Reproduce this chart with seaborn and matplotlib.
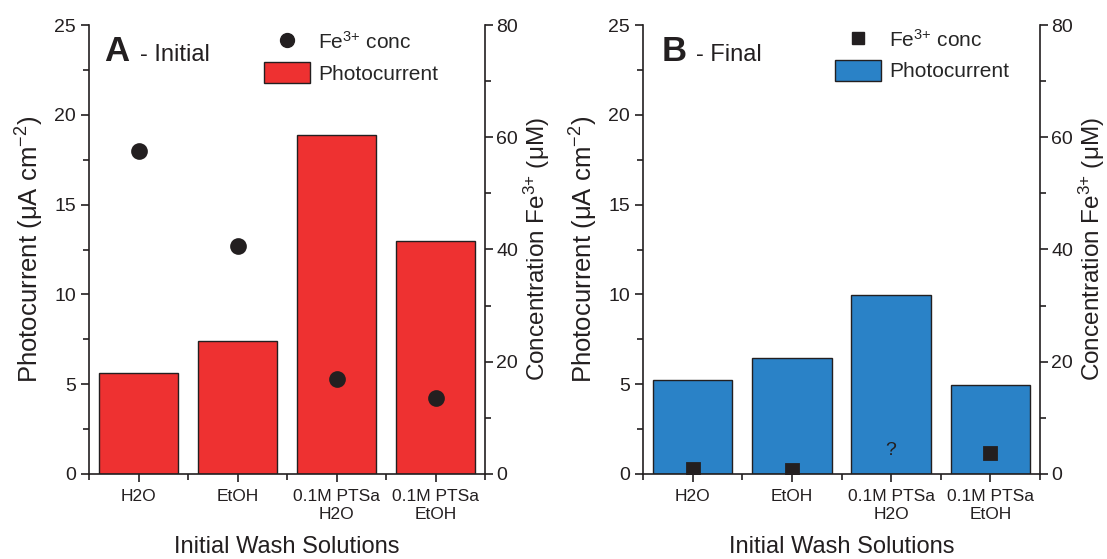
import numpy as np
import pandas as pd
import matplotlib
matplotlib.use("Agg")
import matplotlib.pyplot as plt
from matplotlib.lines import Line2D
from matplotlib.patches import Patch
from matplotlib.ticker import MultipleLocator, FixedLocator
import seaborn as sns

categories = ["H2O", "EtOH", "0.1M PTSa\nH2O", "0.1M PTSa\nEtOH"]
photo_initial = [5.6, 7.38, 18.85, 12.95]
fe_initial = [57.5, 40.6, 16.9, 13.5]
photo_final = [5.21, 6.48, 9.97, 4.95]
fe_final = [0.85, 0.75, np.nan, 3.7]
unknown_label = "?"
unknown_value = 4.1

sns.set_style("ticks")
plt.rcParams["font.family"] = ["Liberation Sans", "DejaVu Sans"]
plt.rcParams["mathtext.fontset"] = "custom"
plt.rcParams["mathtext.rm"] = "Liberation Sans"
plt.rcParams["mathtext.it"] = "Liberation Sans:italic"
plt.rcParams["mathtext.bf"] = "Liberation Sans:bold"
plt.rcParams["axes.linewidth"] = 1.2
plt.rcParams["axes.edgecolor"] = "#231f20"

RED = "#ee3131"
BLUE = "#2a82c7"
INK = "#231f20"

FE_LABEL = "Fe$^{\\mathregular{3{+}}}$ conc"
LEFT_LABEL = "Photocurrent (μA cm$^{\\mathregular{-2}}$)"
RIGHT_LABEL = "Concentration Fe$^{\\mathregular{3{+}}}$ (μM)"

fig = plt.figure(figsize=(11.07, 5.59), dpi=100)
axA = fig.add_axes([89 / 1107, 1 - 474 / 559, 396 / 1107, 449 / 559])
axB = fig.add_axes([643 / 1107, 1 - 474 / 559, 397 / 1107, 449 / 559])


def panel(ax, photo, fe, color, marker, msize, letter, word, lx, wx, leg_x, leg_y):
    sns.barplot(x=categories, y=photo, color=color, width=0.8, edgecolor=INK,
                linewidth=1.0, saturation=1, ax=ax)
    ax2 = ax.twinx()
    sns.pointplot(x=categories, y=fe, linestyle="none", marker=marker,
                  markersize=msize, color=INK, errorbar=None, ax=ax2)
    ax.set_xlim(-0.5, 3.5)
    ax.set_ylim(0, 25)
    ax2.set_ylim(0, 80)
    ax.yaxis.set_major_locator(MultipleLocator(5))
    ax.yaxis.set_minor_locator(MultipleLocator(2.5))
    ax2.yaxis.set_major_locator(MultipleLocator(20))
    ax2.yaxis.set_minor_locator(MultipleLocator(10))
    ax.xaxis.set_minor_locator(FixedLocator([-0.5, 0.5, 1.5, 2.5, 3.5]))
    for a in (ax, ax2):
        a.spines["top"].set_visible(False)
        a.tick_params(which="major", direction="out", length=6, width=1.2, color=INK)
        a.tick_params(which="minor", direction="out", length=4, width=1.2, color=INK)
    ax.spines["right"].set_visible(False)
    ax2.spines["left"].set_visible(False)
    ax2.spines["bottom"].set_visible(False)
    ax2.spines["right"].set_visible(True)
    ax2.set_xticks(range(len(categories)))
    ax.set_xticks(range(len(categories)))
    ax.set_xticklabels(categories, fontsize=12.5, color=INK, linespacing=1.2)
    ax.tick_params(axis="y", labelsize=14, labelcolor=INK)
    ax2.tick_params(axis="y", labelsize=14, labelcolor=INK, pad=2)
    ax.tick_params(axis="x", which="major", pad=5)
    ax.set_xlabel("Initial Wash Solutions", fontsize=17, color=INK, labelpad=10)
    ax.set_ylabel(LEFT_LABEL, fontsize=18.5, color=INK, labelpad=6)
    ax2.set_ylabel(RIGHT_LABEL, fontsize=17.5, color=INK, labelpad=3)
    ax.text(lx, 0.92, letter, transform=ax.transAxes, fontsize=25,
            fontweight="bold", color=INK, va="baseline", ha="left")
    ax.text(wx, 0.92, word, transform=ax.transAxes, fontsize=17,
            color=INK, va="baseline", ha="left")
    handles = [
        Line2D([], [], linestyle="none", marker=marker, markersize=msize,
               color=INK, label=FE_LABEL),
        Patch(facecolor=color, edgecolor=INK, linewidth=1.0, label="Photocurrent"),
    ]
    ax.legend(handles=handles, loc="upper left", bbox_to_anchor=(leg_x, leg_y),
              frameon=False, fontsize=15, borderpad=0, borderaxespad=0,
              handlelength=2.2, handleheight=1.15, handletextpad=0.4,
              labelspacing=0.45)
    return ax2


panel(axA, photo_initial, fe_initial, RED, "o", 10, "A", "- Initial",
      0.037, 0.129, 0.442, 0.987)
axB2 = panel(axB, photo_final, fe_final, BLUE, "s", 8, "B", "- Final",
             0.046, 0.134, 0.484, 0.992)
axB2.text(categories.index("0.1M PTSa\nH2O"), unknown_value, unknown_label,
          fontsize=14, color=INK, ha="center", va="center")

fig.savefig("out.png", dpi=100)
